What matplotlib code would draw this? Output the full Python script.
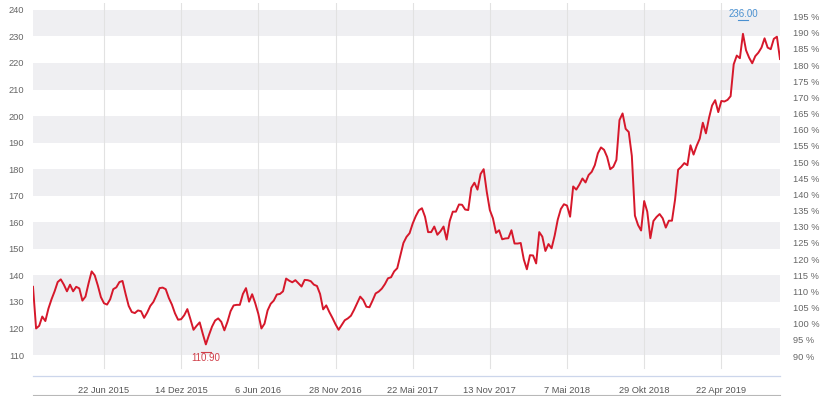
import matplotlib
matplotlib.use("Agg")
import matplotlib.pyplot as plt
import matplotlib.transforms as mtransforms
from matplotlib.lines import Line2D
import pandas as pd

plt.rcParams['font.family'] = ['Liberation Sans', 'DejaVu Sans']

# weekly closing values
values = [
    135.7, 120.0, 121.0, 124.5, 122.8, 127.5, 131.0, 134.0, 137.5, 138.5,
    136.5, 134.0, 136.5, 134.0, 135.7, 135.1, 130.5, 132.0, 137.0, 141.5,
    140.0, 136.2, 131.8, 129.5, 129.0, 131.0, 134.8, 135.5, 137.5, 137.9,
    133.0, 128.5, 126.2, 125.8, 126.8, 126.5, 124.0, 126.0, 128.5, 130.0,
    132.5, 135.2, 135.4, 134.8, 131.5, 129.0, 125.7, 123.3, 123.5, 125.0,
    127.3, 123.5, 119.5, 121.0, 122.3, 118.0, 114.0, 117.5, 120.7, 123.0,
    123.8, 122.5, 119.3, 122.5, 126.5, 128.7, 128.9, 128.9, 133.0, 135.2,
    130.1, 132.9, 129.5, 125.5, 120.0, 121.8, 126.8, 129.3, 130.5, 132.8,
    133.0, 134.0, 138.8, 138.0, 137.4, 138.2, 137.0, 135.8, 138.3, 138.2,
    137.8, 136.5, 136.0, 133.0, 127.2, 128.7, 126.2, 124.0, 121.6, 119.5,
    121.3, 123.1, 123.8, 124.8, 127.0, 129.5, 132.0, 130.7, 128.2, 128.0,
    130.5, 133.2, 133.9, 135.0, 136.7, 138.9, 139.3, 141.5, 142.7, 147.5,
    152.2, 154.5, 155.9, 159.5, 162.3, 164.5, 165.3, 162.1, 156.3, 156.3,
    158.4, 155.3, 156.6, 158.4, 153.5, 160.5, 164.0, 164.0, 166.7, 166.6,
    164.8, 164.6, 173.0, 174.9, 172.3, 178.2, 180.0, 171.5, 164.6, 161.5,
    156.0, 157.0, 153.6, 153.9, 154.0, 157.0, 152.0, 152.0, 152.2, 146.0,
    142.3, 147.6, 147.5, 144.5, 156.3, 154.6, 149.2, 151.8, 150.2, 155.0,
    161.0, 165.0, 166.8, 166.3, 162.1, 173.5, 172.3, 174.2, 176.5, 175.0,
    177.8, 179.0, 181.5, 186.0, 188.2, 187.3, 184.6, 180.0, 180.9, 183.5,
    198.5, 201.0, 195.2, 194.0, 185.0, 162.5, 159.0, 156.9, 168.0, 164.0,
    154.0, 160.5, 162.0, 163.1, 161.5, 158.0, 160.6, 160.6, 168.5, 179.8,
    180.9, 182.3, 181.5, 189.0, 185.5, 188.8, 191.5, 197.5, 193.5, 199.3,
    204.0, 206.0, 201.5, 205.7, 205.5, 206.1, 207.5, 219.5, 222.8, 221.8,
    231.0, 224.8, 222.0, 219.9, 222.6, 223.9, 225.8, 229.3, 225.8, 225.2,
    229.1, 229.9, 221.5,
]
start_date = '2015-01-12'
dates = pd.date_range(start_date, periods=len(values), freq='7D')

tick_dates = ['2015-06-22', '2015-12-14', '2016-06-06', '2016-11-28', '2017-05-22',
              '2017-11-13', '2018-05-07', '2018-10-29', '2019-04-22']
tick_labels = ['22 Jun 2015', '14 Dez 2015', '6 Jun 2016', '28 Nov 2016', '22 Mai 2017',
               '13 Nov 2017', '7 Mai 2018', '29 Okt 2018', '22 Apr 2019']
left_ticks = list(range(110, 241, 10))
right_ticks = list(range(90, 196, 5))
base_value = 121.8
max_label = '236.00'
min_label = '110.90'

W, H = 830, 396
fig = plt.figure(figsize=(W / 100, H / 100), dpi=100)
ax_l, ax_r, ax_t, ax_b = 33, 780, 3, 376
ax = fig.add_axes([ax_l / W, 1 - ax_b / H, (ax_r - ax_l) / W, (ax_b - ax_t) / H])

ax.set_xlim(dates[0], dates[-1])
ax.set_ylim(102.1, 242.6)

# alternating bands
for lo in range(110, 240, 20):
    ax.axhspan(lo, lo + 10, color='#efeff2', lw=0, zorder=0)

# vertical grid lines
tds = pd.to_datetime(tick_dates)
for d in tds:
    ax.axvline(d, ymin=(ax_b - 368) / (ax_b - ax_t), ymax=1, color='#e2e2e2', lw=0.8, zorder=1)

ax.plot(dates, values, color='#d6182b', lw=1.4, zorder=3, solid_joinstyle='round')

for s in ['top', 'right', 'left']:
    ax.spines[s].set_visible(False)
ax.spines['bottom'].set_color('#ccd6eb')
ax.spines['bottom'].set_linewidth(0.9)

ax.set_xticks(tds)
ax.set_xticklabels(tick_labels)
ax.tick_params(axis='x', length=0, pad=7, labelsize=6.7, labelcolor='#555555')
ax.set_yticks(left_ticks)
ax.tick_params(axis='y', length=0, pad=6.5, labelsize=6.7, labelcolor='#666666')

sec = ax.secondary_yaxis('right', functions=(lambda v: v / base_value * 100,
                                             lambda p: p * base_value / 100))
sec.set_yticks(right_ticks)
sec.set_yticklabels([f'{p} %' for p in right_ticks])
sec.tick_params(length=0, pad=9.5, labelsize=6.7, labelcolor='#666666')
sec.spines['right'].set_visible(False)

# max / min annotations
imax = max(range(len(values)), key=lambda i: values[i])
imin = min(range(len(values)), key=lambda i: values[i])
trans = mtransforms.blended_transform_factory(ax.transData, ax.transAxes)
ax.text(dates[imax], 1 - (14 - ax_t) / (ax_b - ax_t), max_label, transform=trans,
        ha='center', va='center', fontsize=7, color='#4a90d0', zorder=5)
off = pd.Timedelta(days=12)
ax.plot([dates[imax] - off, dates[imax] + off], [1 - (19.5 - ax_t) / (ax_b - ax_t)] * 2,
        transform=trans, color='#4a90d0', lw=0.8, zorder=5, clip_on=False)
ax.text(dates[imin], 1 - (358 - ax_t) / (ax_b - ax_t), min_label, transform=trans,
        ha='center', va='center', fontsize=7, color='#d0404a', zorder=5)
ax.plot([dates[imin] - off, dates[imin] + off], [1 - (352 - ax_t) / (ax_b - ax_t)] * 2,
        transform=trans, color='#d0404a', lw=0.8, zorder=5, clip_on=False)

# bottom border line
fig.add_artist(Line2D([ax_l / W, ax_r / W], [1 - 395 / H] * 2, color='#b8b8b8', lw=0.8))

fig.savefig('out.png', dpi=100)
